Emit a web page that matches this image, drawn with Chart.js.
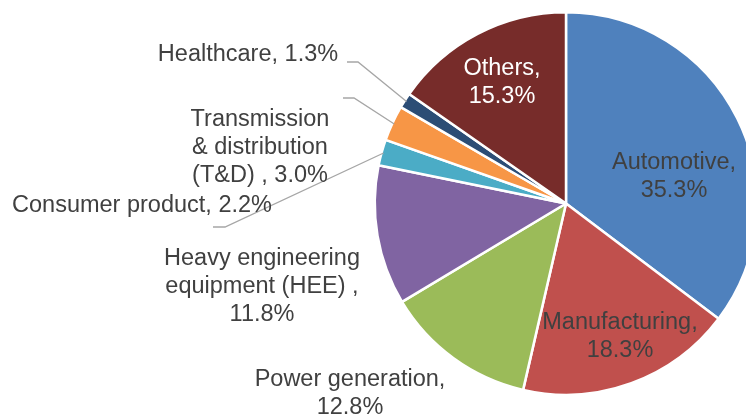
<!DOCTYPE html>
<html>
<head>
<meta charset="utf-8">
<script src="https://cdn.jsdelivr.net/npm/chart.js@4"></script>
<style>
  html, body { margin: 0; padding: 0; background: #fff; }
  #wrap { width: 746px; height: 419px; overflow: hidden; position: relative; }
  #grafico { position: absolute; left: 0; top: 0; }
</style>
</head>
<body>
<div id="wrap"><canvas id="grafico" width="760" height="419"></canvas></div>
<script>
// Setores (sentido horário a partir do topo)
const sectors = [
  "Automotive",
  "Manufacturing",
  "Power generation",
  "Heavy engineering equipment (HEE)",
  "Consumer product",
  "Transmission & distribution (T&D)",
  "Healthcare",
  "Others",
];
const shares = [35.3, 18.3, 12.8, 11.8, 2.2, 3.0, 1.3, 15.3];
const sliceColors = ["#4F81BD", "#C0504D", "#9BBB59", "#8064A2", "#4BACC6", "#F79646", "#2C4D75", "#772C2A"];

// Texto dos rótulos (linhas) e onde ficam
const labelLines = [
  ["Automotive,", "35.3%"],
  ["Manufacturing,", "18.3%"],
  ["Power generation,", "12.8%"],
  ["Heavy engineering", "equipment (HEE) ,", "11.8%"],
  ["Consumer product, 2.2%"],
  ["Transmission", "& distribution", "(T&D) , 3.0%"],
  ["Healthcare, 1.3%"],
  ["Others,", "15.3%"],
];
const labelPos = [
  { x: 674, y: 163, color: "#404040" },
  { x: 620, y: 323, color: "#404040" },
  { x: 350, y: 380, color: "#404040" },
  { x: 262, y: 259, color: "#404040" },
  { x: 142, y: 206, color: "#404040" },
  { x: 260, y: 120, color: "#404040" },
  { x: 248, y: 55, color: "#404040" },
  { x: 502, y: 69, color: "#FFFFFF" },
];
// Linhas de chamada: [x inicio, y, x fim do trecho horizontal]
const leaders = {
  4: [213, 227, 225],
  5: [343, 98, 354],
  6: [347, 62, 358],
};

const labelPlugin = {
  id: "rotulos",
  afterDraw(chart) {
    const ctx = chart.ctx;
    const arcs = chart.getDatasetMeta(0).data;
    ctx.save();
    // linhas de chamada
    ctx.strokeStyle = "#A6A6A6";
    ctx.lineWidth = 1.3;
    Object.keys(leaders).forEach((k) => {
      const a = arcs[k];
      const mid = (a.startAngle + a.endAngle) / 2;
      const r = a.outerRadius - 2;
      const px = a.x + Math.cos(mid) * r;
      const py = a.y + Math.sin(mid) * r;
      const [lx, ly, kx] = leaders[k];
      ctx.beginPath();
      ctx.moveTo(lx, ly);
      ctx.lineTo(kx, ly);
      ctx.lineTo(px, py);
      ctx.stroke();
    });
    // textos
    ctx.font = "23.5px 'Liberation Sans', Arial, sans-serif";
    ctx.textAlign = "center";
    ctx.textBaseline = "middle";
    labelLines.forEach((lines, i) => {
      const p = labelPos[i];
      ctx.fillStyle = p.color;
      lines.forEach((t, j) => ctx.fillText(t, p.x, p.y + j * 28));
    });
    ctx.restore();
  },
};

new Chart(document.getElementById("grafico").getContext("2d"), {
  type: "pie",
  data: {
    labels: sectors,
    datasets: [
      {
        data: shares,
        backgroundColor: sliceColors,
        borderColor: "#FFFFFF",
        borderWidth: 2.5,
      },
    ],
  },
  options: {
    responsive: false,
    animation: false,
    layout: { padding: { left: 372, right: 0, top: 11, bottom: 23 } },
    plugins: { legend: { display: false }, tooltip: { enabled: false } },
  },
  plugins: [labelPlugin],
});
</script>
</body>
</html>
